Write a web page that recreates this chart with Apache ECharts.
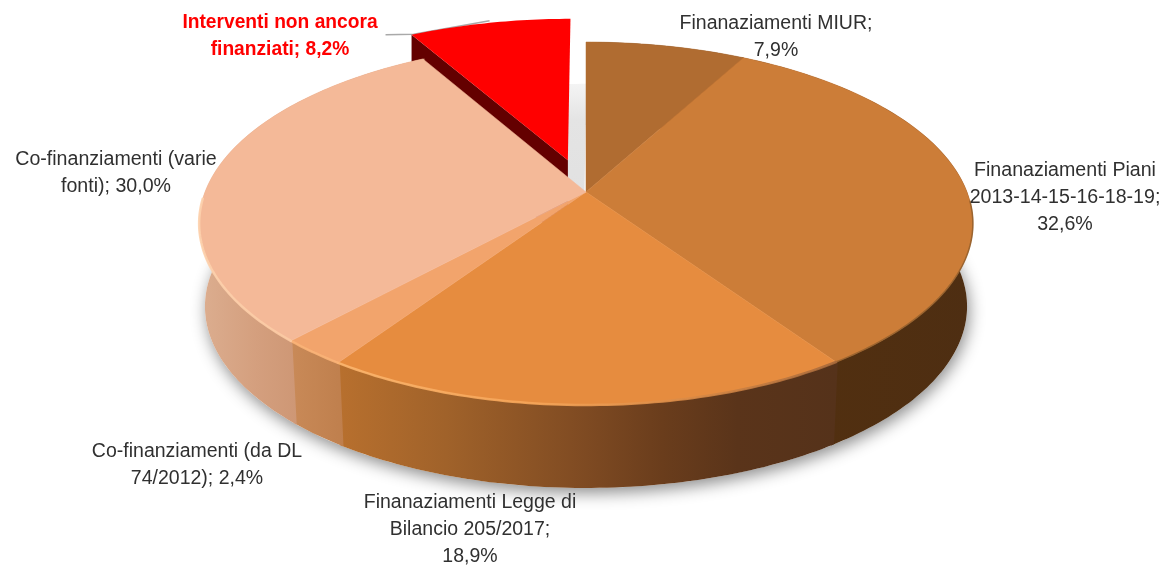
<!DOCTYPE html>
<html><head><meta charset="utf-8">
<style>html,body{margin:0;padding:0;background:#fff}#c{width:1168px;height:566px;filter:blur(0.45px)}</style>
<script src="https://cdn.jsdelivr.net/npm/echarts@6/dist/echarts.min.js"></script>
</head><body><div id="c"></div>
<script>
// ---- data ----
var categories = ['Finanaziamenti MIUR','Finanaziamenti Piani 2013-14-15-16-18-19','Finanaziamenti Legge di Bilancio 205/2017','Co-finanziamenti (da DL 74/2012)','Co-finanziamenti (varie fonti)','Interventi non ancora finanziati'];
var values = [7.9, 32.6, 18.9, 2.4, 30.0, 8.2];
var labelTexts = ['Finanaziamenti MIUR;\n7,9%','Finanaziamenti Piani\n2013-14-15-16-18-19;\n32,6%','Finanaziamenti Legge di\nBilancio 205/2017;\n18,9%','Co-finanziamenti (da DL\n74/2012); 2,4%','Co-finanziamenti (varie\nfonti); 30,0%','Interventi non ancora\nfinanziati; 8,2%'];

// ---- styles / layout ----
var topColors = ['#b06c31','#cc7d38','#e68c3f','#f2a46c','#f4b998','#ff0000'];
function grad(stops){ return new echarts.graphic.LinearGradient(0,0,1,0,stops.map(function(s){return {offset:s[0],color:s[1]};})); }
var wallFills = [
  '#6a3d18',
  grad([[0,'#53300f'],[1,'#4e2e12']]),
  grad([[0,'#b8702e'],[0.22,'#a0622a'],[0.5,'#7e4a22'],[0.65,'#6a3d1c'],[0.8,'#5a341a'],[1,'#55321a']]),
  grad([[0,'#c98a58'],[1,'#bf7f4d']]),
  grad([[0,'#dcae90'],[0.25,'#d49f7e'],[0.45,'#cd9674'],[1,'#cd9674']]),
  '#640000'
];
var rimColors = [null, '#96602c', grad([[0,'#fcb66e'],[0.4,'#f6a558'],[0.7,'#d98a46'],[1,'#a5683a']]), '#f9b377', grad([[0,'#fdd2ae'],[1,'#fbc9a2']]), null];
var rimSpan = [[0,0],[0.55,1],[0,1],[0,1],[0,0.42],[0,0]];
var rimWidth = [0,1.5,2.5,2.5,2.5,0];
var labelPos = [[776,37],[1065,197],[470,529],[197,465],[116,173],[280,36]];
var labelFills = ['#303030','#303030','#303030','#303030','#303030','#ff0000'];
var labelFonts = ['normal','normal','normal','normal','normal','bold'];
var labelScale = [0.975,0.98,0.975,0.975,0.98,0.96];

var CX=586, CY=192, A=381, B=176, K=0.1736, DEPTH=83, S=0.985, EXPLODE=0.193, SEAM=0.005;
var total = values.reduce(function(a,b){return a+b;},0);
var starts = []; values.reduce(function(acc,v,i){ starts[i]=acc; return acc+v; },0);

function proj(u,v){ var d=1-K*v; return [CX+A*u/d, CY+B*v/d]; }
function low(p){ return [CX+(p[0]-CX)*S, p[1]+DEPTH]; }
function arc(a0,a1,ox,oy){
  var n=Math.max(2,Math.ceil(Math.abs(a1-a0)/(Math.PI/180))), pts=[];
  for(var i=0;i<=n;i++){ var a=a0+(a1-a0)*i/n; pts.push(proj(Math.sin(a)+ox,-Math.cos(a)+oy)); }
  return pts;
}
function shift(pts,dx,dy){ return pts.map(function(p){return [p[0]+dx,p[1]+dy];}); }

function renderItem(params, api){
  var i = params.dataIndex, v = api.value(0);
  var a0 = starts[i]/total*2*Math.PI, a1 = (starts[i]+v)/total*2*Math.PI;
  var ch = [];
  var text = {type:'text', z2:20, x:labelPos[i][0], y:labelPos[i][1], scaleX:labelScale[i],
    style:{text:labelTexts[i], fill:labelFills[i], align:'center', verticalAlign:'middle', lineHeight:27,
      font:labelFonts[i]+' 20px "Liberation Sans",Arial,sans-serif'}};
  if(i===values.length-1){
    var m=(a0+a1)/2, ox=Math.sin(m)*EXPLODE, oy=-Math.cos(m)*EXPLODE;
    var apex=proj(ox,oy), a=arc(a0,a1,ox,oy), face=[apex].concat(a);
    ch.push({type:'polygon', z2:0, shape:{points:shift(face,16,65)},
      style:{fill:new echarts.graphic.LinearGradient(0,0,0,1,[{offset:0,color:'#f4f4f4'},{offset:.25,color:'#e4e4e4'},{offset:1,color:'#e0e0e0'}])}});
    ch.push({type:'polyline', z2:1, shape:{points:[[a[0][0]-26,a[0][1]],[a[0][0]+2,a[0][1]-0.5],[a[0][0]+78,a[0][1]-14]]},
      style:{stroke:'#a9a9a9', fill:null, lineWidth:1.5}});
    var cornerL=a[0];
    ch.push({type:'polygon', z2:2, shape:{points:[apex,cornerL,[cornerL[0],cornerL[1]+DEPTH],[apex[0],apex[1]+DEPTH]]},
      style:{fill:wallFills[i]}});
    ch.push({type:'polygon', z2:3, shape:{points:face}, style:{fill:topColors[i]}});
  } else {
    var t=arc(a0,a1,0,0), apex0=proj(0,0);
    var tw=arc(i===0?a0:a0-SEAM, a1+SEAM, 0, 0);
    var wall=tw.concat(tw.map(low).reverse());
    ch.push({type:'polygon', z2:4+i, shape:{points:wall}, style:{fill:wallFills[i]}});
    ch.push({type:'polygon', z2:12, shape:{points:[apex0].concat(t)}, style:{fill:topColors[i], stroke:topColors[i], lineWidth:0.5}});
    if(rimColors[i]){
      ch.push({type:'polyline', z2:14, shape:{points:arc(a0+(a1-a0)*rimSpan[i][0],a0+(a1-a0)*rimSpan[i][1],0,0)},
        style:{stroke:rimColors[i], fill:null, lineWidth:rimWidth[i], lineCap:'round', opacity:0.9}});
    }
  }
  ch.push(text);
  return {type:'group', children:ch};
}
function baseItem(params, api){
  var t=arc(0,2*Math.PI,0,0).map(low);
  return {type:'polygon', shape:{points:t}, style:{fill:'#fff', shadowBlur:16, shadowColor:'rgba(0,0,0,0.45)', shadowOffsetX:2, shadowOffsetY:5}};
}

var chart = echarts.init(document.getElementById('c'), null, {renderer:'canvas'});
chart.setOption({
  animation:false,
  backgroundColor:'#fff',
  tooltip:{show:false},
  series:[
    {type:'custom', coordinateSystem:'none', silent:true, z:1, renderItem:baseItem, data:[[0]]},
    {type:'custom', coordinateSystem:'none', silent:true, z:2, renderItem:renderItem,
     data:values.map(function(v,i){ return {name:categories[i], value:[v]}; })}
  ]
});
</script></body></html>
